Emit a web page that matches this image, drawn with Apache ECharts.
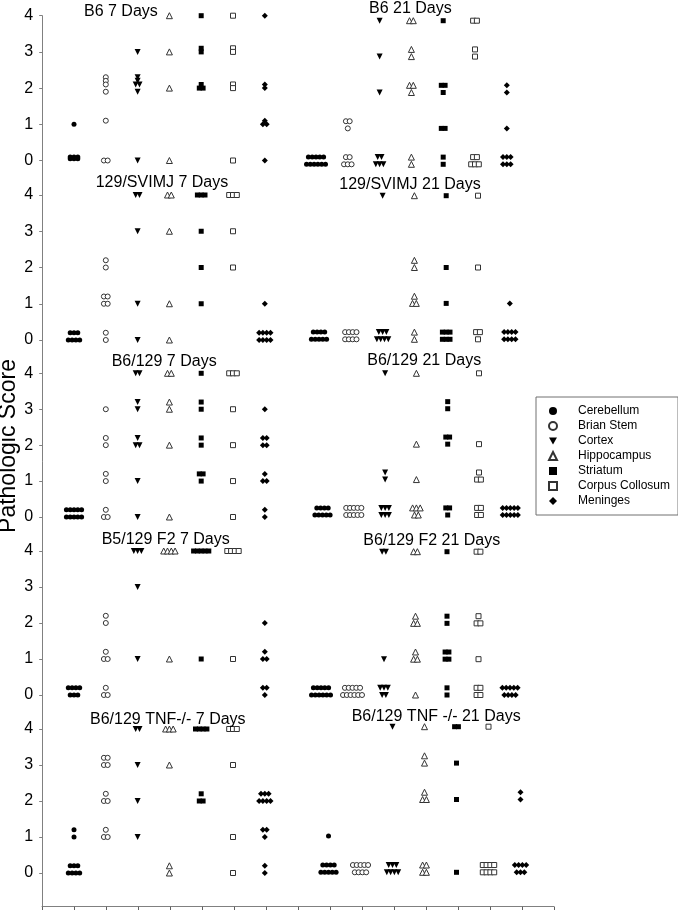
<!DOCTYPE html>
<html><head><meta charset="utf-8">
<script src="https://cdn.jsdelivr.net/npm/echarts@6/dist/echarts.min.js"></script>
<style>html,body{margin:0;padding:0;background:#fff}#c{width:678px;height:910px}</style>
</head><body><div id="c"></div>
<script>
// ---------- DATA ----------
const tissues = ['Cerebellum', 'Brian Stem', 'Cortex', 'Hippocampus', 'Striatum', 'Corpus Collosum', 'Meninges'];
const panelTitles = ['B6 7 Days', 'B6 21 Days', '129/SVIMJ 7 Days', '129/SVIMJ 21 Days',
  'B6/129 7 Days', 'B6/129 21 Days', 'B5/129 F2 7 Days', 'B6/129 F2 21 Days',
  'B6/129 TNF-/- 7 Days', 'B6/129 TNF -/- 21 Days'];
const yTickValues = [0, 1, 2, 3, 4];
// each panel: per tissue, list of [score, number of animals]
const b6_7d = [
  [[1, 1], [0.1, 3], [0.05, 3]],
  [[2.3, 1], [2.2, 1], [2.1, 1], [1.9, 1], [1.1, 1], [0, 2]],
  [[3, 1], [2.3, 1], [2.2, 1], [2.1, 2], [1.9, 1], [0, 1]],
  [[4, 1], [3, 1], [2, 1], [0, 1]],
  [[4, 1], [3.1, 1], [3, 1], [2.1, 1], [2, 2]],
  [[4, 1], [3.1, 1], [3, 1], [2.1, 1], [2, 1], [0, 1]],
  [[4, 1], [2.1, 1], [2, 1], [1.1, 1], [1, 2], [0, 1]]
];
const b6_21d = [
  [[0.2, 5], [0, 6]],
  [[1.2, 2], [1, 1], [0.2, 2], [0, 3]],
  [[4, 1], [3, 1], [2, 1], [0.2, 2], [0, 3]],
  [[4, 2], [3.2, 1], [3, 1], [2.2, 2], [2, 1], [0.2, 1], [0, 1]],
  [[4, 1], [2.2, 2], [2, 1], [1, 2], [0.2, 1], [0, 1]],
  [[4, 2], [3.2, 1], [3, 1], [0.2, 2], [0, 3]],
  [[2.2, 1], [2, 1], [1, 1], [0.2, 3], [0, 3]]
];
const svimj_7d = [
  [[0.2, 3], [0, 4]],
  [[2.2, 1], [2, 1], [1.2, 2], [1, 2], [0.2, 1], [0, 1]],
  [[4, 2], [3, 1], [1, 1], [0, 1]],
  [[4, 2], [3, 1], [1, 1], [0, 1]],
  [[4, 3], [3, 1], [2, 1], [1, 1]],
  [[4, 3], [3, 1], [2, 1]],
  [[1, 1], [0.2, 4], [0, 4]]
];
const svimj_21d = [
  [[0.2, 4], [0, 5]],
  [[0.2, 4], [0, 4]],
  [[4, 1], [0.2, 3], [0, 4]],
  [[4, 1], [2.2, 1], [2, 1], [1.2, 1], [1, 2], [0.2, 1], [0, 1]],
  [[4, 1], [2, 1], [1, 1], [0.2, 3], [0, 3]],
  [[4, 1], [2, 1], [0.2, 2], [0, 1]],
  [[1, 1], [0.2, 4], [0, 4]]
];
const b6x129_7d = [
  [[0.2, 5], [0, 5]],
  [[3, 1], [2.2, 1], [2, 1], [1.2, 1], [1, 1], [0.2, 1], [0, 2]],
  [[4, 2], [3.2, 1], [3, 1], [2.2, 1], [2, 2], [1, 1], [0, 1]],
  [[4, 2], [3.2, 1], [3, 1], [2, 1], [0, 1]],
  [[4, 1], [3.2, 1], [3, 1], [2.2, 1], [2, 1], [1.2, 2], [1, 1]],
  [[4, 3], [3, 1], [2, 1], [1, 1], [0, 1]],
  [[3, 1], [2.2, 2], [2, 2], [1.2, 1], [1, 2], [0.2, 1], [0, 1]]
];
const b6x129_21d = [
  [[0.2, 4], [0, 5]],
  [[0.2, 5], [0, 5]],
  [[4, 1], [1.2, 1], [1, 1], [0.2, 3], [0, 3]],
  [[4, 1], [2, 1], [1, 1], [0.2, 3], [0, 2]],
  [[3.2, 1], [3, 1], [2.2, 2], [2, 1], [0.2, 2], [0, 1]],
  [[4, 1], [2, 1], [1.2, 1], [1, 2], [0.2, 2], [0, 2]],
  [[0.2, 5], [0, 5]]
];
const f2_7d = [
  [[0.2, 4], [0, 3]],
  [[2.2, 1], [2, 1], [1.2, 1], [1, 2], [0.2, 1], [0, 2]],
  [[4, 3], [3, 1], [1, 1]],
  [[4, 4], [1, 1]],
  [[4, 5], [1, 1]],
  [[4, 4], [1, 1]],
  [[2, 1], [1.2, 1], [1, 2], [0.2, 2], [0, 1]]
];
const f2_21d = [
  [[0.2, 5], [0, 6]],
  [[0.2, 5], [0, 6]],
  [[4, 2], [1, 1], [0.2, 3], [0, 2]],
  [[4, 2], [2.2, 1], [2, 2], [1.2, 1], [1, 2], [0, 1]],
  [[4, 1], [2.2, 1], [2, 1], [1.2, 2], [1, 2], [0.2, 1], [0, 1]],
  [[4, 2], [2.2, 1], [2, 2], [1, 1], [0.2, 2], [0, 2]],
  [[0.2, 5], [0, 4]]
];
const tnf_7d = [
  [[1.2, 1], [1, 1], [0.2, 3], [0, 4]],
  [[3.2, 2], [3, 2], [2.2, 1], [2, 2], [1.2, 1], [1, 2]],
  [[4, 2], [3, 1], [2, 1], [1, 1]],
  [[4, 3], [3, 1], [0.2, 1], [0, 1]],
  [[4, 4], [2.2, 1], [2, 2]],
  [[4, 3], [3, 1], [1, 1], [0, 1]],
  [[2.2, 3], [2, 4], [1.2, 2], [1, 1], [0.2, 1], [0, 1]]
];
const tnf_21d = [
  [[1, 1], [0.2, 4], [0, 5]],
  [[0.2, 5], [0, 4]],
  [[4, 1], [0.2, 3], [0, 4]],
  [[4, 1], [3.2, 1], [3, 1], [2.2, 1], [2, 2], [0.2, 2], [0, 2]],
  [[4, 2], [3, 1], [2, 1], [0, 1]],
  [[4, 1], [0.2, 4], [0, 4]],
  [[2.2, 1], [2, 1], [0.2, 4], [0, 3]]
];
const panelData = [b6_7d, b6_21d, svimj_7d, svimj_21d, b6x129_7d, b6x129_21d, f2_7d, f2_21d, tnf_7d, tnf_21d];

// ---------- LAYOUT ----------
const FONT = 'Liberation Sans, Arial, Helvetica, sans-serif';
// [first category x, category spacing, y of score 4, y of score 0, title left, title top]
const layout = [
  [74, 31.8, 15.7, 160.5, 84, 3.7],
  [316, 31.8, 20.7, 164.3, 369, 0.7],
  [74, 31.8, 195, 340, 95.7, 174.7],
  [319, 31.8, 195.7, 339.3, 339.3, 176.3],
  [74, 31.8, 373.3, 517, 111.7, 353.7],
  [322.5, 31.3, 373.3, 515, 367.3, 353],
  [74, 31.8, 551, 695, 101.7, 532],
  [321, 31.5, 551.7, 695, 363.3, 532.3],
  [74, 31.8, 729, 873, 90, 711.3],
  [328.5, 32, 726.7, 872.3, 351.7, 708.7]
];
const jitterPx = 3.8;
const symbolStyles = [
  { symbol: 'circle', size: 5, rotate: 0, color: '#000', border: '#000', bw: 0 },
  { symbol: 'circle', size: 5, rotate: 0, color: '#fff', border: '#333', bw: 1 },
  { symbol: 'triangle', size: 6, rotate: 180, color: '#000', border: '#000', bw: 0 },
  { symbol: 'triangle', size: 6, rotate: 0, color: '#fff', border: '#333', bw: 1 },
  { symbol: 'rect', size: 5, rotate: 0, color: '#000', border: '#000', bw: 0 },
  { symbol: 'rect', size: 5, rotate: 0, color: '#fff', border: '#333', bw: 1 },
  { symbol: 'diamond', size: 6, rotate: 0, color: '#000', border: '#000', bw: 0 }
];
const legendIcons = ['circle', 'circle', 'path://M0,0L10,0L5,9Z', 'triangle', 'rect', 'rect', 'diamond'];
const axisGray = '#808080';

const grids = [{ left: 42, top: 15.7, width: 512, height: 891, outerBoundsMode: 'none', containLabel: false }];
const xAxes = [{
  gridIndex: 0, type: 'value', min: 0, max: 16, interval: 1,
  axisLine: { show: true, onZero: false, lineStyle: { color: axisGray, width: 1 } },
  axisTick: { show: true, inside: false, length: 4, lineStyle: { color: '#606060' } },
  axisLabel: { show: false }, splitLine: { show: false }
}];
const yAxes = [{
  gridIndex: 0, type: 'value', min: 0, max: 1,
  axisLine: { show: true, onZero: false, lineStyle: { color: axisGray, width: 1 } },
  axisTick: { show: false }, axisLabel: { show: false }, splitLine: { show: false }
}];
const titles = [];
const series = [];

panelData.forEach((panel, p) => {
  const [cat0, sp, y4, y0, tl, tt] = layout[p];
  const isLeft = p % 2 === 0;
  const g = p + 1;
  grids.push({ left: cat0 - sp, width: 8 * sp, top: y4, height: y0 - y4, outerBoundsMode: 'none', containLabel: false });
  xAxes.push({ gridIndex: g, type: 'value', min: -1, max: 7, show: false, axisLine: { onZero: false } });
  yAxes.push({
    gridIndex: g, type: 'value', min: 0, max: 4, interval: 1, show: isLeft,
    axisLine: { show: false, onZero: false },
    axisTick: { show: true, inside: false, length: 3, lineStyle: { color: axisGray } },
    axisLabel: { show: true, fontSize: 16, color: '#000', margin: 9, fontFamily: FONT, customValues: yTickValues },
    splitLine: { show: false }
  });
  titles.push({
    text: panelTitles[p], left: tl, top: tt, padding: 0,
    textStyle: { fontSize: 16, fontWeight: 'normal', color: '#000', fontFamily: FONT }
  });
  panel.forEach((rows, t) => {
    const st = symbolStyles[t];
    const data = [];
    rows.forEach(([v, n]) => {
      for (let j = 0; j < n; j++) {
        data.push([t + (j - (n - 1) / 2) * jitterPx / sp, v]);
      }
    });
    series.push({
      type: 'scatter', name: tissues[t], xAxisIndex: g, yAxisIndex: g, data,
      symbol: st.symbol, symbolSize: st.size, symbolRotate: st.rotate, symbolKeepAspect: true,
      itemStyle: { color: st.color, borderColor: st.border, borderWidth: st.bw, opacity: 1 },
      clip: false, silent: true, animation: false
    });
  });
});

const chart = echarts.init(document.getElementById('c'), null, { renderer: 'canvas' });
chart.setOption({
  backgroundColor: '#fff',
  animation: false,
  title: titles,
  grid: grids,
  xAxis: xAxes,
  yAxis: yAxes,
  legend: {
    data: tissues.map((name, i) => ({ name, icon: legendIcons[i] })),
    orient: 'vertical', left: 536, top: 397,
    padding: [8, 8, 8, 12], itemGap: 3, itemWidth: 8, itemHeight: 8,
    symbolKeepAspect: true, symbolRotate: 0,
    borderColor: '#707070', borderWidth: 1, backgroundColor: '#fff', borderRadius: 0,
    textStyle: { fontSize: 12, color: '#000', fontFamily: FONT, padding: [0, 0, 0, 16] },
    selectedMode: false
  },
  graphic: [{
    type: 'text', x: 9, y: 446, rotation: Math.PI / 2,
    style: { text: 'Pathologic Score', fontSize: 23, fontFamily: FONT, fill: '#000', align: 'center', verticalAlign: 'middle' }
  }],
  series
});
</script></body></html>
